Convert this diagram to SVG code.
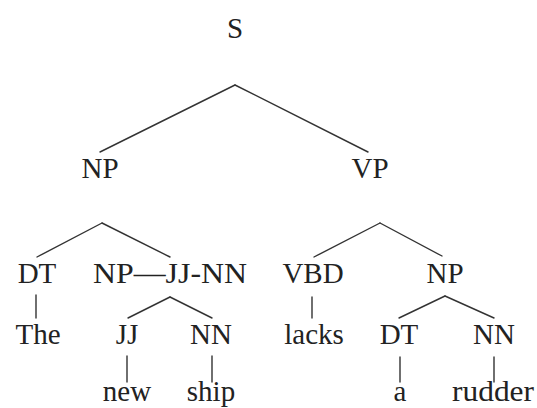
<svg xmlns="http://www.w3.org/2000/svg" width="537" height="408" viewBox="0 0 537 408">
<rect width="537" height="408" fill="#fff"/>
<g id="connectors" stroke="#333" stroke-width="1.4" stroke-linecap="round">
<line x1="235" y1="85" x2="100" y2="152"/>
<line x1="235" y1="85" x2="368" y2="152"/>
<line x1="102" y1="223" x2="37" y2="257"/>
<line x1="102" y1="223" x2="170" y2="257"/>
<line x1="36" y1="295" x2="36" y2="318"/>
<line x1="170" y1="297" x2="128" y2="318"/>
<line x1="170" y1="297" x2="212" y2="318"/>
<line x1="127" y1="356" x2="127" y2="382"/>
<line x1="212" y1="356" x2="212" y2="382"/>
<line x1="380" y1="223" x2="314" y2="257"/>
<line x1="380" y1="223" x2="442" y2="256"/>
<line x1="312" y1="297" x2="312" y2="318"/>
<line x1="445" y1="296" x2="399" y2="318"/>
<line x1="445" y1="296" x2="494" y2="318"/>
<line x1="400" y1="357" x2="400" y2="382"/>
<line x1="494" y1="357" x2="494" y2="382"/>
</g>
<g id="nodes" font-family="Liberation Serif, serif" font-size="29" fill="#222" text-anchor="middle">
<g id="n-S"><text x="235" y="38">S</text></g>
<g id="n-NP1"><text x="100" y="178">NP</text></g>
<g id="n-VP"><text x="370" y="178">VP</text></g>
<g id="n-DT1"><text x="37" y="283">DT</text></g>
<g id="n-NPJJNN"><text x="170" y="283" textLength="154" lengthAdjust="spacingAndGlyphs">NP—JJ-NN</text></g>
<g id="n-The"><text x="38" y="344">The</text></g>
<g id="n-JJ"><text x="127" y="344">JJ</text></g>
<g id="n-NN1"><text x="211" y="344">NN</text></g>
<g id="n-new"><text x="127" y="401">new</text></g>
<g id="n-ship"><text x="211" y="401">ship</text></g>
<g id="n-VBD"><text x="313" y="283">VBD</text></g>
<g id="n-NP2"><text x="445" y="283">NP</text></g>
<g id="n-lacks"><text x="314" y="344">lacks</text></g>
<g id="n-DT2"><text x="399" y="344">DT</text></g>
<g id="n-NN2"><text x="494" y="344">NN</text></g>
<g id="n-a"><text x="400" y="401">a</text></g>
<g id="n-rudder"><text x="493" y="401" textLength="82" lengthAdjust="spacingAndGlyphs">rudder</text></g>
</g>
</svg>
